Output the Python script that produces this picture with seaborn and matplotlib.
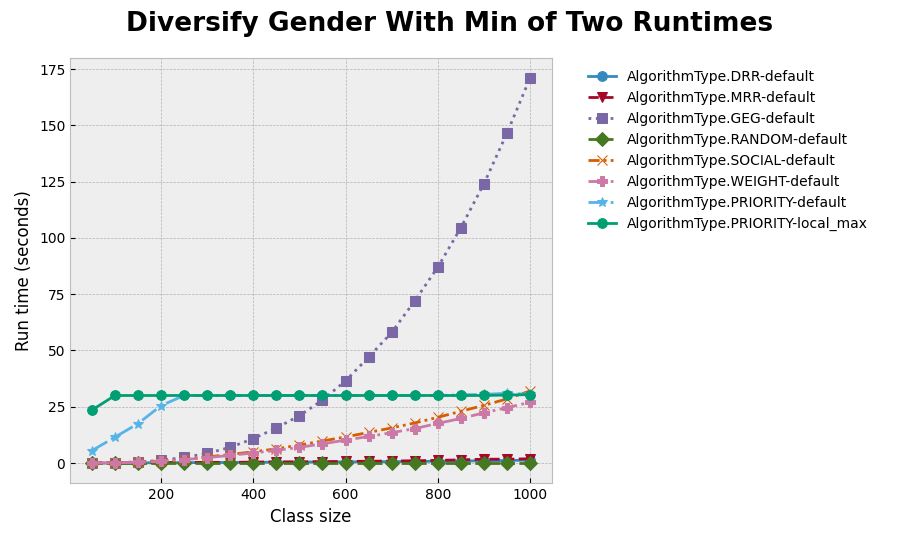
import matplotlib
matplotlib.use('Agg')
import matplotlib.pyplot as plt
import seaborn as sns
import pandas as pd

plt.style.use('bmh')

sizes = list(range(50, 1001, 50))
drr = [0, 0, 0.1, 0.1, 0.2, 0.2, 0.3, 0.3, 0.4, 0.4, 0.5, 0.5, 0.6, 0.6, 0.7, 0.8, 0.9, 1.0, 1.1, 1.3]
mrr = [0, 0, 0.1, 0.2, 0.2, 0.3, 0.3, 0.4, 0.5, 0.5, 0.6, 0.7, 0.8, 0.9, 1.0, 1.2, 1.4, 1.7, 1.7, 1.9]
geg = [0, 0.2, 0.5, 1.2, 2.5, 4.3, 7, 10.8, 15.6, 21, 28, 36.5, 47, 58, 72, 87, 104.5, 124, 146.5, 171]
rnd = [0] * 20
social = [0, 0.1, 0.4, 0.9, 1.7, 2.7, 3.8, 5, 6.3, 8, 9.8, 11.6, 13.6, 15.6, 17.8, 20.3, 23, 25.6, 28.5, 32]
weight = [0, 0.1, 0.3, 0.8, 1.5, 2.4, 3.4, 4.5, 5.6, 7, 8.5, 10.2, 11.8, 13.5, 15.3, 17.6, 19.8, 22.3, 24.6, 27]
prio = [5.5, 11.5, 17.5, 25.5, 30, 30, 30, 30, 30, 30, 30, 30, 30, 30, 30, 30, 30.3, 30.5, 31, 30.5]
local = [23.5, 30, 30, 30, 30, 30, 30, 30, 30, 30, 30, 30, 30, 30, 30, 30, 30, 30, 30.2, 30.4]

series = [
    ('AlgorithmType.DRR-default', drr, 'o', '-'),
    ('AlgorithmType.MRR-default', mrr, 'v', '--'),
    ('AlgorithmType.GEG-default', geg, 's', ':'),
    ('AlgorithmType.RANDOM-default', rnd, 'D', '--'),
    ('AlgorithmType.SOCIAL-default', social, 'x', (0, (4, 1.5, 1, 1.5, 1, 1.5))),
    ('AlgorithmType.WEIGHT-default', weight, 'P', '-.'),
    ('AlgorithmType.PRIORITY-default', prio, '*', '-.'),
    ('AlgorithmType.PRIORITY-local_max', local, 'o', '-'),
]
colors = ['#348ABD', '#A60628', '#7A68A6', '#467821', '#D55E00', '#CC79A7', '#56B4E9', '#009E73']

fig, ax = plt.subplots(figsize=(9, 5.4), dpi=100)
for (name, vals, m, ls), c in zip(series, colors):
    df = pd.DataFrame({'x': sizes, 'y': vals})
    sns.lineplot(data=df, x='x', y='y', ax=ax, label=name, color=c, marker=m,
                 linestyle=ls, linewidth=2, markersize=7, markeredgecolor=c)

ax.set_xlim(3, 1047)
ax.set_ylim(-9, 180)
ax.set_xlabel('Class size', fontsize=12)
ax.set_ylabel('Run time (seconds)', fontsize=12)
fig.suptitle('Diversify Gender With Min of Two Runtimes', fontsize=19, fontweight='bold')
ax.legend(loc='upper left', bbox_to_anchor=(1.05, 1.0), frameon=False, fontsize=10)
fig.subplots_adjust(left=0.078, right=0.613, top=0.893, bottom=0.105)
fig.savefig('out.png')
